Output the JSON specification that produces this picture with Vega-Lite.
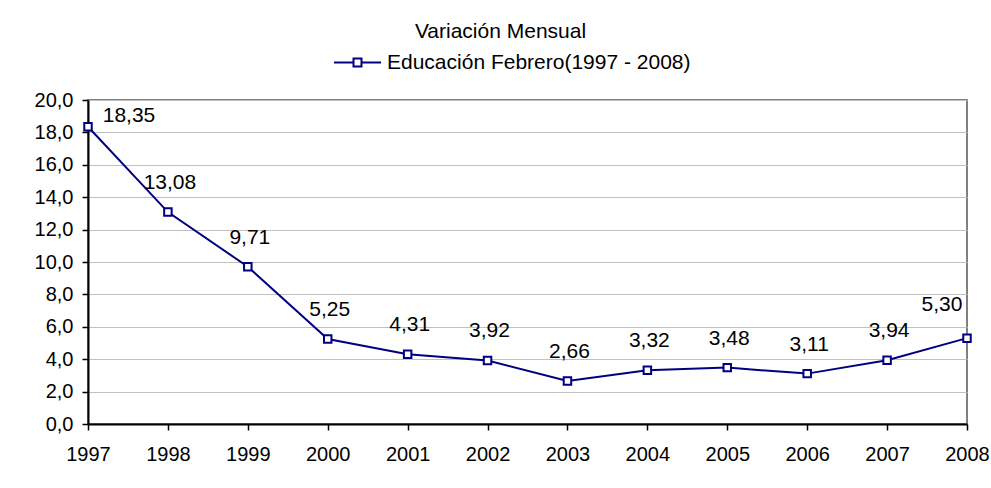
{
  "$schema": "https://vega.github.io/schema/vega-lite/v6.json",
  "width": 879,
  "height": 324,
  "autosize": {"type": "none"},
  "padding": {"left": 88, "top": 100, "right": 24, "bottom": 64},
  "background": "white",
  "config": {
    "locale": {"number": {"decimal": ",", "thousands": ".", "grouping": [3], "currency": ["", " €"]}},
    "font": "Liberation Sans",
    "view": {"stroke": "#808080", "strokeWidth": 2},
    "axis": {
      "labelFont": "Liberation Sans",
      "labelColor": "black",
      "labelFontSize": 20,
      "domainColor": "black",
      "domainWidth": 2,
      "tickColor": "black",
      "tickSize": 6,
      "tickWidth": 1.5,
      "gridColor": "#c0c0c0",
      "gridWidth": 1,
      "title": null
    }
  },
  "title": {
    "text": "Variación Mensual",
    "font": "Liberation Sans",
    "fontSize": 21,
    "fontWeight": "normal",
    "color": "black",
    "anchor": "middle",
    "baseline": "alphabetic",
    "dx": -27,
    "offset": -21
  },
  "data": {
    "values": [
      {"anio": 1997, "valor": 18.35},
      {"anio": 1998, "valor": 13.08},
      {"anio": 1999, "valor": 9.71},
      {"anio": 2000, "valor": 5.25},
      {"anio": 2001, "valor": 4.31},
      {"anio": 2002, "valor": 3.92},
      {"anio": 2003, "valor": 2.66},
      {"anio": 2004, "valor": 3.32},
      {"anio": 2005, "valor": 3.48},
      {"anio": 2006, "valor": 3.11},
      {"anio": 2007, "valor": 3.94},
      {"anio": 2008, "valor": 5.30}
    ]
  },
  "encoding": {
    "x": {
      "field": "anio",
      "type": "quantitative",
      "scale": {"domain": [1997, 2008], "nice": false, "zero": false},
      "axis": {
        "values": [1997, 1998, 1999, 2000, 2001, 2002, 2003, 2004, 2005, 2006, 2007, 2008],
        "format": "d",
        "grid": false,
        "labelPadding": 14,
        "labelFlush": false,
        "labelOverlap": false
      }
    },
    "y": {
      "field": "valor",
      "type": "quantitative",
      "scale": {"domain": [0, 20], "nice": false},
      "axis": {
        "values": [0, 2, 4, 6, 8, 10, 12, 14, 16, 18, 20],
        "format": ".1f",
        "grid": true,
        "labelPadding": 9
      }
    }
  },
  "layer": [
    {
      "mark": {"type": "line", "color": "#000080", "strokeWidth": 2},
      "encoding": {
        "color": {
          "datum": "Educación Febrero(1997 - 2008)",
          "scale": {"range": ["#000080"]},
          "legend": {
            "orient": "none",
            "legendX": 245,
            "legendY": -62,
            "padding": 0,
            "title": null,
            "symbolType": "M-1,0L-0.17,0M0.17,0L1,0M-0.17,-0.17L0.17,-0.17L0.17,0.17L-0.17,0.17Z",
            "symbolSize": 2209,
            "symbolStrokeWidth": 2,
            "symbolStrokeColor": "#000080",
            "symbolFillColor": "white",
            "labelFont": "Liberation Sans",
            "labelFontSize": 21,
            "labelColor": "black",
            "labelOffset": 5,
            "labelLimit": 0
          }
        }
      }
    },
    {
      "mark": {"type": "point", "shape": "square", "size": 56, "filled": true, "fill": "white", "stroke": "#000080", "strokeWidth": 2, "opacity": 1}
    },
    {
      "transform": [{"filter": "datum.anio > 1997 && datum.anio < 2008"}],
      "mark": {"type": "text", "fontSize": 21, "color": "black", "dx": 2, "dy": -29, "baseline": "middle", "align": "center"},
      "encoding": {"text": {"field": "valor", "type": "quantitative", "format": ".2f"}}
    },
    {
      "transform": [{"filter": "datum.anio == 1997"}],
      "mark": {"type": "text", "fontSize": 21, "color": "black", "dx": 41, "dy": -11, "baseline": "middle", "align": "center"},
      "encoding": {"text": {"field": "valor", "type": "quantitative", "format": ".2f"}}
    },
    {
      "transform": [{"filter": "datum.anio == 2008"}],
      "mark": {"type": "text", "fontSize": 21, "color": "black", "dx": -25, "dy": -33, "baseline": "middle", "align": "center"},
      "encoding": {"text": {"field": "valor", "type": "quantitative", "format": ".2f"}}
    }
  ]
}
